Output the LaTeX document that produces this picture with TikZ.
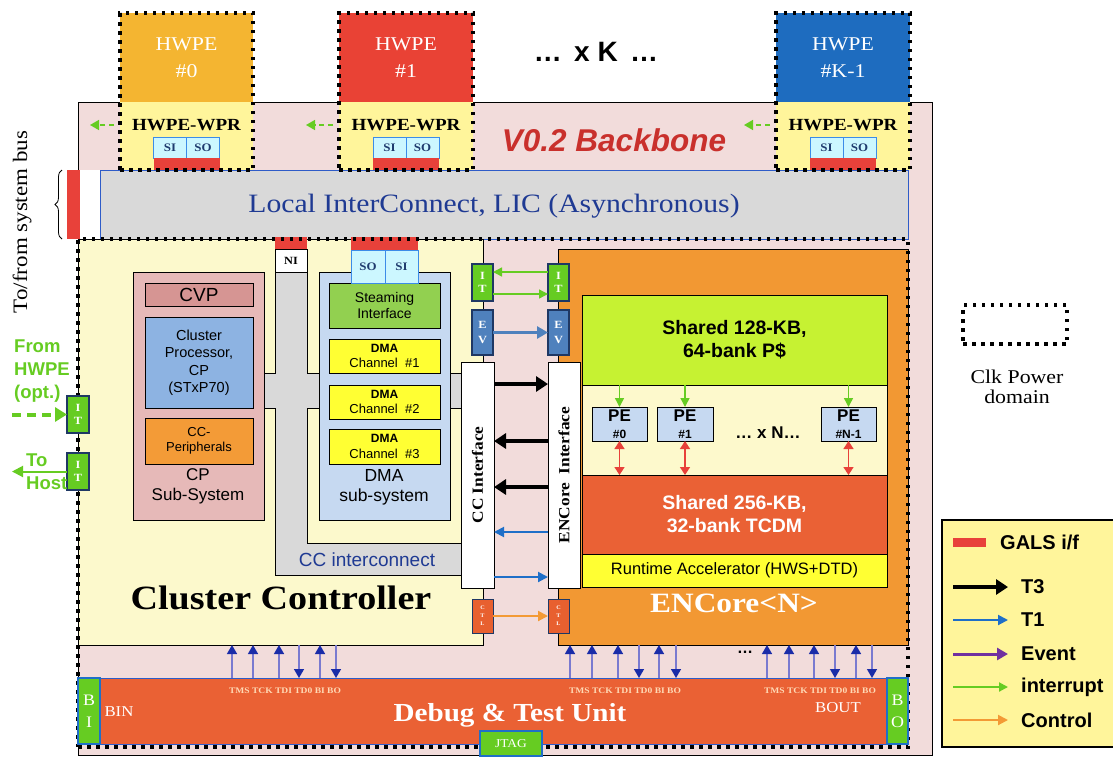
\documentclass[tikz,border=0pt]{standalone}
\usepackage{fontspec}
\setmainfont{Liberation Serif}[FakeStretch=1.12]
\setsansfont{Liberation Sans}
\usetikzlibrary{arrows.meta,decorations.pathreplacing,calc}

\definecolor{pinkbg}{HTML}{F2DCDB}
\definecolor{ccyellow}{HTML}{FCF9CC}
\definecolor{licgray}{HTML}{D9D9D9}
\definecolor{licline}{HTML}{2E5CC8}
\definecolor{lictext}{HTML}{1F3A93}
\definecolor{galsred}{HTML}{E8413A}
\definecolor{hwpeA}{HTML}{F4B531}
\definecolor{hwpeB}{HTML}{E94235}
\definecolor{hwpeC}{HTML}{1E6CBF}
\definecolor{wpryel}{HTML}{FFF59B}
\definecolor{sifill}{HTML}{CCF7FF}
\definecolor{siline}{HTML}{3C8CE8}
\definecolor{sitext}{HTML}{1F3B6E}
\definecolor{cpss}{HTML}{E6B9B8}
\definecolor{cvpfill}{HTML}{D69593}
\definecolor{cpblue}{HTML}{8DB3E2}
\definecolor{ccper}{HTML}{F39B37}
\definecolor{dmass}{HTML}{C6D9F1}
\definecolor{stream}{HTML}{92D050}
\definecolor{dmach}{HTML}{FFFF33}
\definecolor{encor}{HTML}{F29833}
\definecolor{pcache}{HTML}{C6F232}
\definecolor{peband}{HTML}{FDF9CC}
\definecolor{pefill}{HTML}{C6D9F1}
\definecolor{tcdm}{HTML}{EA6135}
\definecolor{itgreen}{HTML}{66CC22}
\definecolor{navy}{HTML}{1F3864}
\definecolor{evblue}{HTML}{4F81BD}
\definecolor{ctlred}{HTML}{E8602F}
\definecolor{dbgred}{HTML}{EA6134}
\definecolor{tonebl}{HTML}{1F6FC8}
\definecolor{jshaft}{HTML}{7A7AD0}
\definecolor{jhead}{HTML}{1A2CA8}
\definecolor{evpurple}{HTML}{7030A0}
\definecolor{ctlorange}{HTML}{F39A35}
\definecolor{tmscol}{HTML}{FFD9B5}
\definecolor{legyel}{HTML}{FFF59B}
\definecolor{backred}{HTML}{C9302C}

\newcommand{\fsz}[2]{\fontsize{#1}{#2}\selectfont}
% block spanning the corners (x1,y1) and (x2,y2)
\newcommand{\blk}[7]{%
  \node[inner sep=0pt, outer sep=0pt, align=center,
        minimum width={((#4)-(#2))*1pt}, minimum height={((#5)-(#3))*1pt}, #6]
        (#1) at ({((#2)+(#4))/2},{((#3)+(#5))/2}) {#7};}

\begin{document}
\begin{tikzpicture}[x=1pt,y=-1pt,
  thinbox/.style={draw=black, line width=0.8pt},
  clkdom/.style={draw=black, line width=3.5pt, dash pattern=on 3.5pt off 5.5pt},
  hwpetxt/.style={text=white, font=\fsz{19.5pt}{27pt}},
  wprlabel/.style={font=\bfseries\fsz{17pt}{18pt}, inner sep=0pt},
  sibox/.style={fill=sifill, draw=siline, line width=1pt, text=sitext, font=\bfseries\fsz{11.5pt}{12pt}},
  itbox/.style={fill=itgreen, draw=navy, line width=1.3pt, text=white, font=\bfseries\fsz{11pt}{13pt}},
  evbox/.style={fill=evblue, draw=navy, line width=1.3pt, text=white, font=\bfseries\fsz{11pt}{15pt}},
  ctlbox/.style={fill=ctlred, draw=navy, line width=1pt, text=white, font=\bfseries\fsz{5.5pt}{8pt}},
  wprarrow/.style={draw=itgreen, line width=1.5pt, dash pattern=on 5pt off 4pt, shorten <=6pt, -{Triangle[length=9pt,width=10pt]}},
  tthree/.style={draw=black, line width=4pt, -{Triangle[length=12pt,width=15pt]}},
  tone/.style={draw=tonebl, line width=2pt, -{Triangle[length=10pt,width=10pt]}},
  evarrow/.style={draw=evblue, line width=3pt, -{Triangle[length=11pt,width=12pt]}},
  evtarrow/.style={draw=evpurple, line width=3pt, -{Triangle[length=11pt,width=12pt]}},
  intarrow/.style={draw=itgreen, line width=1.4pt, -{Triangle[length=9pt,width=9pt]}},
  ctlarrow/.style={draw=ctlorange, line width=2pt, -{Triangle[length=10pt,width=10pt]}},
  jarrow/.style={draw=jshaft, line width=1.4pt, -{Triangle[length=9pt,width=10pt,color=jhead]}},
  pearrow/.style={draw=galsred, line width=1.5pt, {Triangle[length=8pt,width=10pt]}-{Triangle[length=8pt,width=10pt]}},
  greentext/.style={text=itgreen, font=\sffamily\bfseries\fsz{18.5pt}{23pt}, inner sep=0pt},
  legtext/.style={font=\sffamily\bfseries\fsz{20pt}{22pt}, anchor=west, inner sep=0pt},
]
\useasboundingbox (0,0) rectangle (1113,758);

% ---------------- backbone ----------------
\blk{backbone}{78}{102}{932}{755}{fill=pinkbg, draw=black, line width=1pt}{}
\node[text=backred, font=\sffamily\bfseries\itshape\fsz{31.5pt}{32pt}] (bbtitle) at (614,140) {V0.2 Backbone};

% local interconnect
\blk{lic}{100}{170}{908}{239}{fill=licgray, draw=licline, line width=0.8pt}{}
\node[text=lictext, font=\fsz{26.5pt}{28pt}] (lictxt) at (494,206) {Local InterConnect, LIC (Asynchronous)};
\blk{licw}{80}{170}{100}{239}{fill=white}{}
\blk{licr}{67}{170}{80}{239}{fill=galsred}{}
\draw[decorate, decoration={brace, amplitude=7pt}, line width=0.8pt]
  ([xshift=-5pt]licr.south west) -- ([xshift=-5pt]licr.north west);
\node[rotate=90, font=\fsz{20.5pt}{22pt}] (sysbus) at (22,222) {To/from system bus};

% ---------------- cluster controller ----------------
\blk{cc}{78}{239}{483}{645}{fill=ccyellow, draw=black, line width=1pt}{}
\blk{enc}{558}{249}{908}{645}{fill=encor, draw=black, line width=1pt}{}

% CC interconnect
\draw[fill=licgray, draw=black, line width=0.8pt]
  (275,272) -- (307,272) -- (307,373) -- (462,373) -- (462,408) -- (307,408)
  -- (307,543) -- (462,543) -- (462,575) -- (275,575) -- (275,408) -- (264,408)
  -- (264,373) -- (275,373) -- cycle;
\node[font=\sffamily\fsz{19pt}{22pt}, text=lictext] (icname) at (367,560) {CC interconnect};

% CP sub-system
\blk{cpss}{133}{272}{264}{520}{fill=cpss, thinbox}{}
\blk{cvp}{145}{283}{253}{306}{fill=cvpfill, thinbox, font=\sffamily\fsz{19pt}{22pt}}{CVP}
\blk{cp}{145}{317}{253}{408}{fill=cpblue, thinbox, font=\sffamily\fsz{14.5pt}{17.5pt}}{Cluster\\Processor,\\CP\\(STxP70)}
\blk{ccp}{145}{418}{253}{464}{fill=ccper, thinbox, font=\sffamily\fsz{13pt}{15pt}}{CC-\\Peripherals}
\node[font=\sffamily\fsz{17pt}{20pt}, align=center] (cpname) at (198,486) {CP\\Sub-System};

% NI port
\blk{nir}{275}{237}{307}{249}{fill=galsred}{}
\blk{niw}{275}{249}{307}{272}{fill=white, thinbox, font=\bfseries\fsz{11pt}{12pt}}{NI}

% DMA sub-system
\blk{dma}{319}{272}{450}{520}{fill=dmass, thinbox}{}
\blk{strm}{329}{283}{440}{328}{fill=stream, thinbox, font=\sffamily\fsz{14pt}{16pt}}{Steaming\\Interface}
\blk{dch1}{329}{339}{440}{373}{fill=dmach, thinbox, font=\sffamily\fsz{13pt}{15.5pt}}{{\bfseries\fsz{12pt}{15.5pt}DMA}\\Channel\ \ \#1}
\blk{dch2}{329}{385}{440}{419}{fill=dmach, thinbox, font=\sffamily\fsz{13pt}{15.5pt}}{{\bfseries\fsz{12pt}{15.5pt}DMA}\\Channel\ \ \#2}
\blk{dch3}{329}{429}{440}{464}{fill=dmach, thinbox, font=\sffamily\fsz{13pt}{15.5pt}}{{\bfseries\fsz{12pt}{15.5pt}DMA}\\Channel\ \ \#3}
\node[font=\sffamily\fsz{17.5pt}{20pt}, align=center] (dmaname) at (384,487) {DMA\\sub-system};
\blk{dsor}{351}{237}{418}{250}{fill=galsred}{}
\blk{dso}{351}{250}{385}{283}{sibox}{SO}
\blk{dsi}{385}{250}{418}{283}{sibox}{SI}

\node[font=\bfseries\fsz{34pt}{36pt}] (ccname) at (281,598) {Cluster Controller};

% ---------------- ENCore ----------------
\blk{pc}{582}{295}{887}{385}{fill=pcache, thinbox, font=\sffamily\bfseries\fsz{19.5pt}{23pt}}{Shared 128-KB,\\64-bank P\$}
\blk{peb}{582}{385}{887}{475}{fill=peband, thinbox}{}
\blk{tc}{582}{475}{887}{554}{fill=tcdm, thinbox, text=white, font=\sffamily\bfseries\fsz{19.5pt}{23pt}}{Shared 256-KB,\\32-bank TCDM}
\blk{rta}{582}{554}{887}{587}{fill=dmach, thinbox, font=\sffamily\fsz{16.5pt}{18pt}}{Runtime Accelerator (HWS+DTD)}
\blk{pe0}{592}{407}{647}{441}{fill=pefill, thinbox, font=\sffamily\bfseries\fsz{17pt}{17pt}}{PE\\{\fsz{12pt}{15pt}\#0}}
\blk{pe1}{657}{407}{713}{441}{fill=pefill, thinbox, font=\sffamily\bfseries\fsz{17pt}{17pt}}{PE\\{\fsz{12pt}{15pt}\#1}}
\blk{pen}{821}{407}{876}{441}{fill=pefill, thinbox, font=\sffamily\bfseries\fsz{17pt}{17pt}}{PE\\{\fsz{12pt}{15pt}\#N-1}}
\node[font=\sffamily\bfseries\fsz{17pt}{18pt}] (pedots) at (768,433) {\dots\ x N\dots};
\foreach \p in {pe0,pe1,pen}{
  \draw[intarrow] (\p.north |- pc.south) -- (\p.north);
  \draw[pearrow] (\p.south) -- (\p.south |- tc.north);
}
\node[text=white, font=\bfseries\fsz{28pt}{30pt}] (encname) at (734,603) {ENCore<N>};

% ---------------- CC / ENCore interfaces ----------------
\blk{ccif}{461}{362}{494}{588}{fill=white, thinbox}{}
\node[rotate=90, font=\bfseries\fsz{15.5pt}{16pt}] (ccift) at (ccif.center) {CC Interface};
\blk{encif}{548}{362}{580}{588}{fill=white, thinbox}{}
\node[rotate=90, font=\bfseries\fsz{15.5pt}{16pt}] (encift) at (encif.center) {ENCore\ \ Interface};

\blk{itl}{472}{264}{493}{301}{itbox}{I\\T}
\blk{itr}{548}{264}{569}{301}{itbox}{I\\T}
\blk{evl}{472}{310}{493}{355}{evbox}{E\\V}
\blk{evr}{548}{310}{569}{355}{evbox}{E\\V}
\blk{ctll}{472}{599}{493}{633}{ctlbox}{C\\T\\L}
\blk{ctlr}{548}{599}{569}{633}{ctlbox}{C\\T\\L}

\draw[intarrow] (itr.west |- 0,272) -- (itl.east |- 0,272);
\draw[intarrow] (itl.east |- 0,294) -- (itr.west |- 0,294);
\draw[evarrow] (evl.east) -- (evr.west);
\draw[tthree] (ccif.east |- 0,384) -- (encif.west |- 0,384);
\draw[tthree] (encif.west |- 0,441) -- (ccif.east |- 0,441);
\draw[tthree] (encif.west |- 0,487) -- (ccif.east |- 0,487);
\draw[tone] (encif.west |- 0,532) -- (ccif.east |- 0,532);
\draw[tone] (ccif.east |- 0,577) -- (encif.west |- 0,577);
\draw[ctlarrow] (ctll.east) -- (ctlr.west);

% ---------------- debug & test unit ----------------
\blk{dbg}{100}{678}{887}{744}{fill=dbgred, draw=licline, line width=0.8pt}{}
\node[text=white, font=\bfseries\fsz{26pt}{27pt}] (dbgname) at (510,715) {Debug \& Test Unit};
\node[text=white, font=\fsz{15pt}{16pt}] (binname) at (119,712) {BIN};
\node[text=white, font=\fsz{15pt}{16pt}] (boutname) at (838,708) {BOUT};
\node[text=tmscol, font=\bfseries\fsz{8.5pt}{9pt}] (tms1) at (285,691) {TMS TCK TDI TD0 BI BO};
\node[text=tmscol, font=\bfseries\fsz{8.5pt}{9pt}] (tms2) at (625,691) {TMS TCK TDI TD0 BI BO};
\node[text=tmscol, font=\bfseries\fsz{8.5pt}{9pt}] (tms3) at (820,691) {TMS TCK TDI TD0 BI BO};

% boundary-scan links: u = towards the cluster, d = towards the debug unit
\foreach \x/\d in {232/u,253/u,279/u,299/d,320/u,336/d}{
  \if\d u\relax \draw[jarrow] (dbg.north -| \x,0) -- (cc.south -| \x,0);
  \else \draw[jarrow] (cc.south -| \x,0) -- (dbg.north -| \x,0); \fi
}
\foreach \x/\d in {570/u,592/u,618/u,639/d,659/u,676/d,767/u,789/u,814/u,835/d,856/u,872/d}{
  \if\d u\relax \draw[jarrow] (dbg.north -| \x,0) -- (enc.south -| \x,0);
  \else \draw[jarrow] (enc.south -| \x,0) -- (dbg.north -| \x,0); \fi
}
\node[font=\sffamily\bfseries\fsz{16pt}{16pt}] (jdots) at (745,652) {\dots};

% clock domain of the cluster
\blk{ccdom}{78}{239}{908}{747}{clkdom}{}

\blk{bi}{78}{678}{100}{744}{fill=itgreen, draw=tonebl, line width=1.5pt, text=white, font=\fsz{16pt}{22pt}}{B\\I}
\blk{bo}{887}{678}{908}{744}{fill=itgreen, draw=tonebl, line width=1.5pt, text=white, font=\fsz{16pt}{22pt}}{B\\O}
\blk{jtag}{480}{731}{542}{756}{fill=itgreen, draw=tonebl, line width=1.5pt, text=white, font=\fsz{12pt}{13pt}}{JTAG}

% host side interrupt ports
\blk{itin}{67}{396}{89}{433}{itbox}{I\\T}
\blk{itout}{67}{453}{89}{490}{itbox}{I\\T}
\node[greentext, align=left, anchor=west] (fromhwpe) at (14,371) {From\\HWPE\\(opt.)};
\node[greentext, align=left, anchor=west] (tohost) at (26,472) {To\\Host};
\coordinate (hwpesrc) at (12,414.5);
\coordinate (hostdst) at (12,471.5);
\draw[draw=itgreen, line width=4pt, dash pattern=on 9pt off 6pt, -{Triangle[length=12pt,width=14pt]}] (hwpesrc) -- (itin.west);
\draw[draw=itgreen, line width=2pt, -{Triangle[length=11pt,width=11pt]}] (itout.west) -- (hostdst);

% ---------------- hardware processing engines ----------------
\blk{hwpe0}{120}{13}{253}{102}{fill=hwpeA, hwpetxt}{HWPE\\\#0}
\blk{wpr0}{120}{102}{253}{170}{fill=wpryel}{}
\node[wprlabel] (wpr0t) at (186.5,125) {HWPE-WPR};
\blk{si0}{153.5}{137}{186.5}{158}{sibox}{SI}
\blk{so0}{186.5}{137}{219.5}{158}{sibox}{SO}
\blk{gl0}{153.5}{158}{219.5}{170}{fill=galsred}{}
\blk{dom0}{120}{13}{253}{170}{clkdom}{}
\coordinate (w0end) at (90,125);
\draw[wprarrow] (wpr0.west |- wpr0t) -- (w0end);

\blk{hwpe1}{339}{13}{473}{102}{fill=hwpeB, hwpetxt}{HWPE\\\#1}
\blk{wpr1}{339}{102}{473}{170}{fill=wpryel}{}
\node[wprlabel] (wpr1t) at (406,125) {HWPE-WPR};
\blk{si1}{373}{137}{406}{158}{sibox}{SI}
\blk{so1}{406}{137}{439}{158}{sibox}{SO}
\blk{gl1}{373}{158}{439}{170}{fill=galsred}{}
\blk{dom1}{339}{13}{473}{170}{clkdom}{}
\coordinate (w1end) at (306,125);
\draw[wprarrow] (wpr1.west |- wpr1t) -- (w1end);

\blk{hwpek}{776}{13}{910}{102}{fill=hwpeC, hwpetxt}{HWPE\\\#K-1}
\blk{wprk}{776}{102}{910}{170}{fill=wpryel}{}
\node[wprlabel] (wprkt) at (843,125) {HWPE-WPR};
\blk{sik}{810}{137}{843}{158}{sibox}{SI}
\blk{sok}{843}{137}{876}{158}{sibox}{SO}
\blk{glk}{810}{158}{876}{170}{fill=galsred}{}
\blk{domk}{776}{13}{910}{170}{clkdom}{}
\coordinate (wkend) at (744,125);
\draw[wprarrow] (wprk.west |- wprkt) -- (wkend);

\node[font=\sffamily\bfseries\fsz{28pt}{30pt}] (kdots) at (596,52) {\dots\ \,x K \,\dots};

% ---------------- key ----------------
\blk{clkkey}{963}{305}{1067}{344}{clkdom}{}
\node[font=\fsz{19.5pt}{20pt}, align=center] (clkkeyt) at (1017,387) {Clk Power\\domain};

\blk{legend}{942}{520}{1120}{747}{fill=legyel, draw=black, line width=1.5pt}{}
\blk{leggals}{953}{538}{986}{547}{fill=galsred}{}
\node[legtext] (lgals) at (1000,542) {GALS i/f};
\coordinate (lg1a) at (953,587); \coordinate (lg1b) at (1008,587);
\coordinate (lg2a) at (953,620); \coordinate (lg2b) at (1008,620);
\coordinate (lg3a) at (953,654); \coordinate (lg3b) at (1008,654);
\coordinate (lg4a) at (953,687); \coordinate (lg4b) at (1008,687);
\coordinate (lg5a) at (953,720); \coordinate (lg5b) at (1008,720);
\draw[tthree] (lg1a) -- (lg1b);
\draw[tone] (lg2a) -- (lg2b);
\draw[evtarrow] (lg3a) -- (lg3b);
\draw[intarrow, line width=2pt] (lg4a) -- (lg4b);
\draw[ctlarrow] (lg5a) -- (lg5b);
\node[legtext] (lt3) at (1021,587) {T3};
\node[legtext] (lt1) at (1021,620) {T1};
\node[legtext] (lev) at (1021,654) {Event};
\node[legtext] (lint) at (1021,687) {interrupt};
\node[legtext] (lctl) at (1021,720) {Control};
\end{tikzpicture}
\end{document}
